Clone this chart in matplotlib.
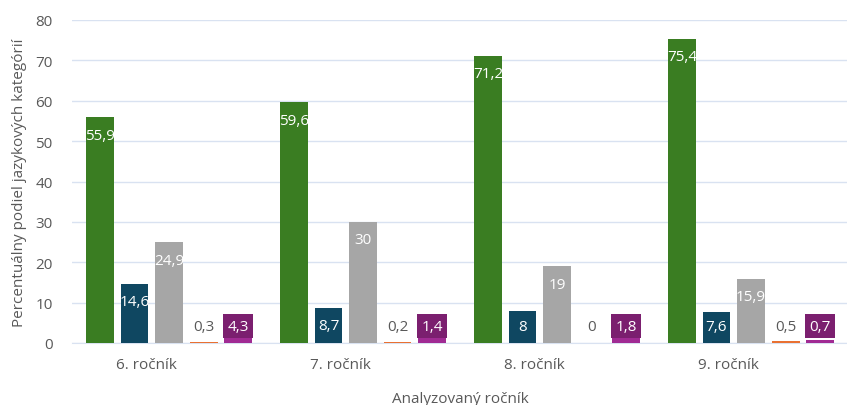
import matplotlib
matplotlib.use('Agg')
import matplotlib.pyplot as plt
import numpy as np

plt.rcParams['font.family'] = ['Open Sans', 'DejaVu Sans']

# data
groups = ['6. ročník', '7. ročník', '8. ročník', '9. ročník']
series_green = [55.9, 59.6, 71.2, 75.4]
series_blue = [14.6, 8.7, 8, 7.6]
series_gray = [24.9, 30, 19, 15.9]
series_orange = [0.3, 0.2, 0, 0.5]
series_purple = [4.3, 1.4, 1.8, 0.7]

all_series = [series_green, series_blue, series_gray, series_orange, series_purple]
colors = ['#3a7d22', '#0f4761', '#a6a6a6', '#e97132', '#a02b93']
# box colour behind small labels (None = no box, grey text)
label_boxes = ['#3a7d22', '#0f4761', '#a6a6a6', None, '#7b1f6f']

text_col = '#595959'
grid_col = '#d9e2f1'
fs = 11

fig = plt.figure(figsize=(8.47, 4.06), dpi=100)
ax = fig.add_axes([72 / 847, 62 / 406, 776 / 847, 323 / 406])

x = np.arange(len(groups))
step = 0.178
width = 0.144

for k, (vals, col, box) in enumerate(zip(all_series, colors, label_boxes)):
    pos = x + (k - 2) * step
    ax.bar(pos, vals, width=width, color=col, zorder=3)
    for p, v in zip(pos, vals):
        txt = f'{v:g}'.replace('.', ',')
        y = max(v - 4.4, 4.2)
        if box is None:
            ax.text(p, y, txt, ha='center', va='center', color=text_col,
                    fontsize=fs, zorder=5)
        elif v < 7:
            ax.text(p, y, txt, ha='center', va='center', color='white',
                    fontsize=fs, zorder=5,
                    bbox=dict(boxstyle='square,pad=0.3', fc=box, ec='none'))
        else:
            ax.text(p, y, txt, ha='center', va='center', color='white',
                    fontsize=fs, zorder=5)

ax.set_xlim(-0.5, 3.5)
ax.set_ylim(0, 80)
ax.set_yticks(range(0, 81, 10))
ax.set_xticks(x - 0.115)
ax.set_xticklabels(groups)
ax.yaxis.grid(True, color=grid_col, linewidth=1, zorder=0)
ax.tick_params(axis='both', length=0, colors=text_col, labelsize=fs)
ax.tick_params(axis='y', pad=14)
ax.tick_params(axis='x', pad=10)
for s in ['top', 'right', 'left']:
    ax.spines[s].set_visible(False)
ax.spines['bottom'].set_color(grid_col)

ax.set_ylabel('Percentuálny podiel jazykových kategórií', color=text_col, fontsize=fs, labelpad=6)
ax.set_xlabel('Analyzovaný ročník', color=text_col, fontsize=fs, labelpad=14)

fig.savefig('out.png', dpi=100)
